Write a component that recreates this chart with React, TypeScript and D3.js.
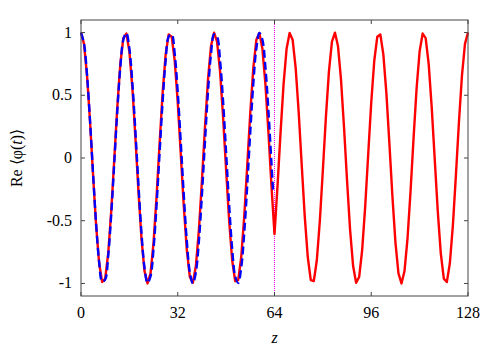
import React from 'react';
import * as d3 from 'd3';

// red curve: values at z = 0, 1, ..., 128
const redValues = [
  1, 0.91, 0.656, 0.285, -0.138, -0.537, -0.839, -0.989, -0.962, -0.761,
  -0.423, -0.011, 0.404, 0.748, 0.956, 0.992, 0.85, 0.556, 0.16, -0.264,
  -0.64, -0.901, -1.0, -0.919, -0.672, -0.305, 0.117, 0.519, 0.826, 0.985,
  0.967, 0.775, 0.443, 0.032, -0.385, -0.732, -0.949, -0.994, -0.861, -0.572,
  -0.181, 0.243, 0.624, 0.892, 0.999, 0.927, 0.688, 0.326, -0.096, -0.5,
  -0.815, -0.982, -0.973, -0.789, -0.463, -0.053, 0.365, 0.718, 0.942, 0.996,
  0.871, 0.589, 0.202, -0.222, -0.607,
  -0.222, 0.202, 0.589, 0.871, 0.996, 0.942, 0.718, 0.365, -0.053, -0.463,
  -0.789, -0.973, -0.982, -0.815, -0.5, -0.096, 0.326, 0.688, 0.927, 0.999,
  0.892, 0.624, 0.243, -0.181, -0.572, -0.861, -0.994, -0.949, -0.732, -0.385,
  0.032, 0.443, 0.775, 0.967, 0.985, 0.826, 0.519, 0.117, -0.305, -0.672,
  -0.919, -1.0, -0.901, -0.64, -0.264, 0.16, 0.556, 0.85, 0.992, 0.956,
  0.748, 0.404, -0.011, -0.423, -0.761, -0.962, -0.989, -0.839, -0.537, -0.138,
  0.285, 0.656, 0.91, 1
];

// blue dashed curve
const blueZ = [
  0, 1, 2, 3, 4, 5, 6, 7, 8, 9, 10, 11, 12, 13, 14, 15, 16, 17, 18, 19,
  20, 21, 22, 23, 24, 25, 26, 27, 28, 29, 30, 31, 32, 33, 34, 35, 36, 37, 38, 39,
  40, 41, 42, 43, 44, 45, 46, 47, 48, 49, 50, 51, 52, 53, 54, 55, 56, 57, 58, 59,
  60, 61, 62, 63, 63.5
];
const blueValues = [
  1, 0.911, 0.661, 0.293, -0.127, -0.525, -0.829, -0.986, -0.968, -0.778,
  -0.45, -0.042, 0.373, 0.722, 0.943, 0.996, 0.873, 0.594, 0.211, -0.211,
  -0.595, -0.873, -0.996, -0.943, -0.722, -0.373, 0.042, 0.45, 0.778, 0.968,
  0.986, 0.829, 0.525, 0.127, -0.293, -0.661, -0.911, -1.0, -0.911, -0.661,
  -0.293, 0.127, 0.525, 0.829, 0.986, 0.968, 0.778, 0.45, 0.042, -0.373,
  -0.722, -0.943, -0.996, -0.873, -0.594, -0.211, 0.211, 0.594, 0.873, 0.996,
  0.943, 0.722, 0.373, -0.043, -0.252
];

const xTicks = [0, 32, 64, 96, 128];
const yTicks = [1, 0.5, 0, -0.5, -1];
const markerZ = 64;

const width = 498;
const height = 349;
const left = 81;
const right = 468;
const top = 20;
const bottom = 296;

export default function App() {
  const x = d3.scaleLinear().domain([0, 128]).range([left, right]);
  const y = d3.scaleLinear().domain([-1.1, 1.1]).range([bottom, top]);

  const redPath = d3.line<number>()
    .x((d, i) => x(i))
    .y(d => y(d))(redValues);

  const bluePath = d3.line<number>()
    .x((d, i) => x(blueZ[i]))
    .y(d => y(d))
    .curve(d3.curveCatmullRom)(blueValues);

  const txt = { fontFamily: "'Liberation Serif', 'Times New Roman', Times, serif", fontSize: 16 };
  const frame = '#444';

  return (
    <svg width={width} height={height} style={{ position: 'absolute', left: 0, top: 0 }}>
      <rect x={0} y={0} width={width} height={height} fill="#fff" />

      {/* marker line */}
      <line x1={x(markerZ)} x2={x(markerZ)} y1={top} y2={bottom}
        stroke="#ff00ff" strokeWidth={1} strokeDasharray="1,1" />

      <path d={redPath || ''} fill="none" stroke="#ff0000" strokeWidth={2.4} strokeLinejoin="round" />
      <path d={bluePath || ''} fill="none" stroke="#0000ff" strokeWidth={2.4} strokeDasharray="8,4" />

      {/* frame */}
      <rect x={left} y={top} width={right - left} height={bottom - top}
        fill="none" stroke={frame} strokeWidth={1} />

      {xTicks.map(t => (
        <g key={'x' + t}>
          <line x1={x(t)} x2={x(t)} y1={bottom} y2={bottom - 4} stroke={frame} />
          <line x1={x(t)} x2={x(t)} y1={top} y2={top + 4} stroke={frame} />
          <text x={x(t)} y={318} textAnchor="middle" style={txt}>{t}</text>
        </g>
      ))}
      {yTicks.map(t => (
        <g key={'y' + t}>
          <line x1={left} x2={left + 4} y1={y(t)} y2={y(t)} stroke={frame} />
          <line x1={right} x2={right - 4} y1={y(t)} y2={y(t)} stroke={frame} />
          <text x={72} y={y(t) + 5} textAnchor="end" style={txt}>{t}</text>
        </g>
      ))}

      <text x={x(64)} y={343} textAnchor="middle" style={{ ...txt, fontStyle: 'italic' }}>z</text>
      <text transform={`translate(22,${(top + bottom) / 2}) rotate(-90)`} textAnchor="middle" style={txt}>
        Re ⟨φ(<tspan fontStyle="italic">t</tspan>)⟩
      </text>
    </svg>
  );
}
